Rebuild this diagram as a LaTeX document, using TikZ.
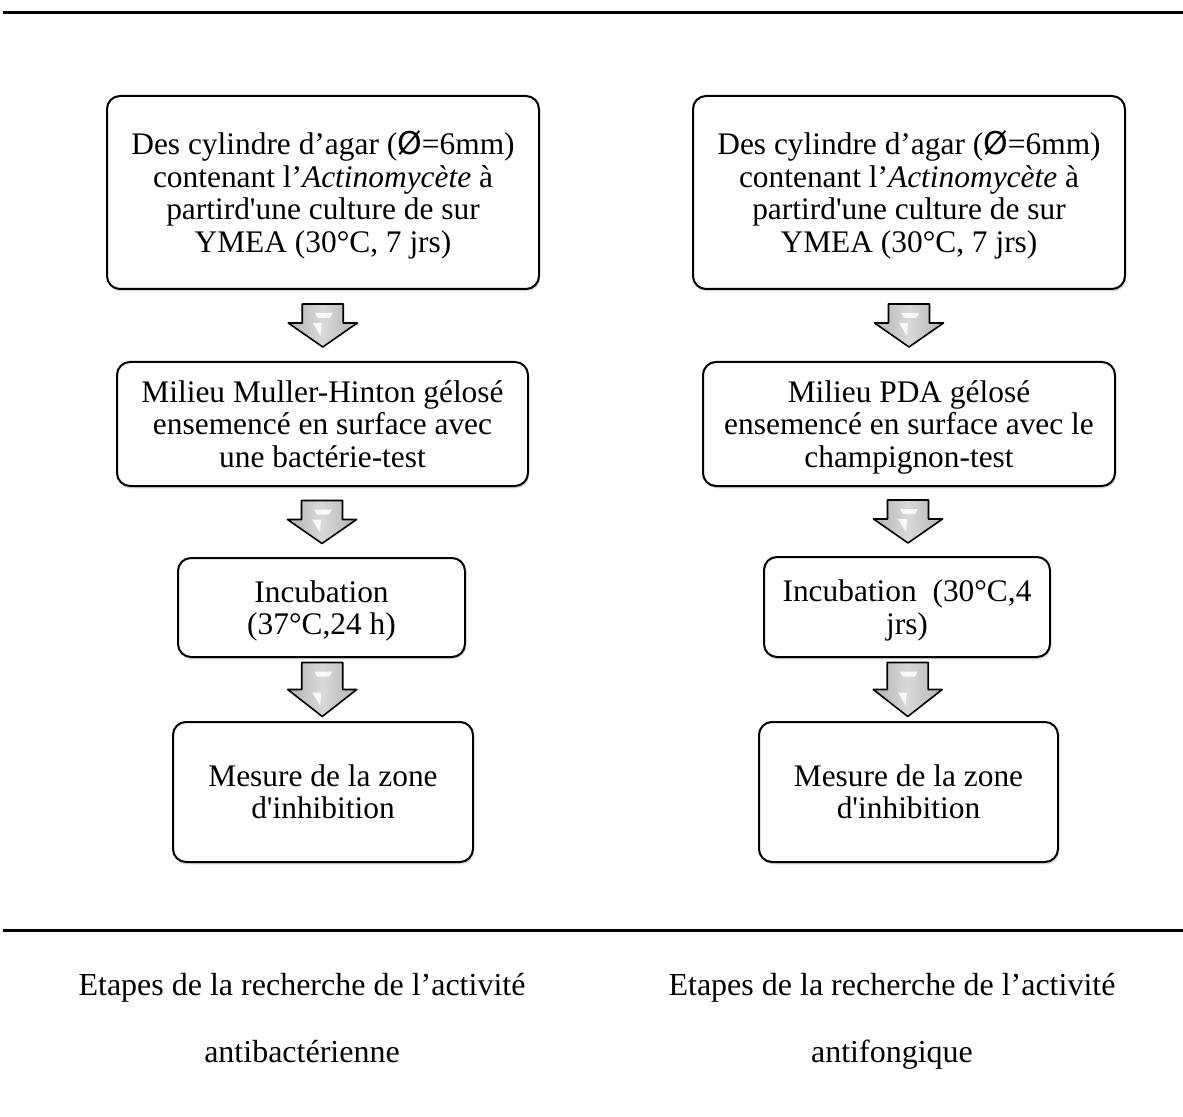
\documentclass[tikz,border=0pt]{standalone}
\usepackage{fontspec}
\setmainfont{Liberation Serif}[Ligatures=TeXOff]
\newfontfamily\symfont{DejaVu Sans}
\usetikzlibrary{arrows.meta, positioning, shadows, calc}

% block arrow pointing down: centre, half length, head base (relative to centre)
\newcommand{\flowarrow}[3]{%
    \draw[flow arrow] ([shift={(-10.25pt,#2)}]#1) -- ([shift={(10.25pt,#2)}]#1)
        -- ([shift={(10.25pt,#3)}]#1) -- ([shift={(17.25pt,#3)}]#1) -- ([shift={(0pt,-#2)}]#1)
        -- ([shift={(-17.25pt,#3)}]#1) -- ([shift={(-10.25pt,#3)}]#1) -- cycle;
    \fill[white, opacity=0.85] ([shift={(-4pt,#2-4.5pt)}]#1) -- ([shift={(5pt,#2-4.5pt)}]#1)
        -- ([shift={(3.5pt,#2-7pt)}]#1) -- ([shift={(-2.5pt,#2-7pt)}]#1) -- cycle;
    \fill[white, opacity=0.85] ([shift={(-5pt,-#2+12pt)}]#1) -- ([shift={(-0.5pt,-#2+12pt)}]#1)
        -- ([shift={(-1pt,-#2+5.5pt)}]#1) -- cycle;
}

\begin{document}
\begin{tikzpicture}[
    x=0.5pt, y=-0.5pt,
    font=\fontsize{15.7}{16.3}\selectfont,
    step box/.style={draw=black, line width=1pt, rounded corners=6.5pt, fill=white, align=center, inner sep=2pt,
        text depth=#1,
        drop shadow={shadow xshift=0.5pt, shadow yshift=-1.2pt, opacity=0.3}},
    step box/.default=0pt,
    flow arrow/.style={draw=black, line width=0.8pt, line join=round,
        left color=gray!60, right color=gray!60, middle color=gray!30},
    caption/.style={align=center, font=\fontsize{16}{33.5}\selectfont,
        execute at begin node={\strut}, execute at end node={\strut}}
]
    \useasboundingbox (0,0) rectangle (1183,1117);

    % Rules
    \draw[line width=1.5pt] (3,13) -- (1183,13);
    \draw[line width=1.5pt] (3,930) -- (1183,930);

    % Nodes (antibacterial)
    \node[step box=1pt, minimum width=216pt, minimum height=96.5pt] (L1) at (323,192.5)
        {Des cylindre d’agar ({\symfont Ø}=6mm)\\ contenant l’\textit{Actinomycète} à\\ partird'une culture de sur\\ YMEA (30°C, 7 jrs)};
    \node[step box, minimum width=205.5pt, minimum height=62pt] (L2) at (322.5,424)
        {Milieu Muller-Hinton gélosé\\ ensemencé en surface avec\\ une bactérie-test};
    \node[step box, minimum width=143.5pt, minimum height=49.5pt] (L3) at (321.5,607.5)
        {Incubation\\ (37°C,24 h)};
    \node[step box=0.5pt, minimum width=150pt, minimum height=70pt] (L4) at (323,792)
        {Mesure de la zone\\ d'inhibition};

    % Nodes (antifungal)
    \node[step box=1pt, minimum width=216pt, minimum height=96.5pt] (R1) at (909,192.5)
        {Des cylindre d’agar ({\symfont Ø}=6mm)\\ contenant l’\textit{Actinomycète} à\\ partird'une culture de sur\\ YMEA (30°C, 7 jrs)};
    \node[step box=-1pt, minimum width=206pt, minimum height=62pt] (R2) at (909,424)
        {Milieu PDA gélosé\\ ensemencé en surface avec le\\ champignon-test};
    \node[step box=-0.5pt, minimum width=143pt, minimum height=50pt] (R3) at (907,607)
        {Incubation\ \ (30°C,4\\ jrs)};
    \node[step box=0.5pt, minimum width=149.5pt, minimum height=70pt] (R4) at (908.5,792)
        {Mesure de la zone\\ d'inhibition};

    % Arrows
    \coordinate (la1) at ($(L1.south)!0.5!(L2.north)$);
    \coordinate (la2) at ($(L2.south)!0.5!(L3.north)$);
    \coordinate (la3) at ($(L3.south)!0.5!(L4.north)$);
    \coordinate (ra1) at ($(R1.south)!0.5!(R2.north)$);
    \coordinate (ra2) at ($(R2.south)!0.5!(R3.north)$);
    \coordinate (ra3) at ($(R3.south)!0.5!(R4.north)$);
    \flowarrow{la1}{10.75pt}{1.25pt}
    \flowarrow{la2}{10.75pt}{1.25pt}
    \flowarrow{la3}{13.5pt}{0pt}
    \flowarrow{ra1}{10.75pt}{1.25pt}
    \flowarrow{ra2}{10.75pt}{1.25pt}
    \flowarrow{ra3}{13.5pt}{0pt}

    % Captions
    \node[caption] (capL) at (302,1028) {Etapes de la recherche de l’activité\\ antibactérienne};
    \node[caption] (capR) at (892,1028) {Etapes de la recherche de l’activité\\ antifongique};
\end{tikzpicture}
\end{document}
